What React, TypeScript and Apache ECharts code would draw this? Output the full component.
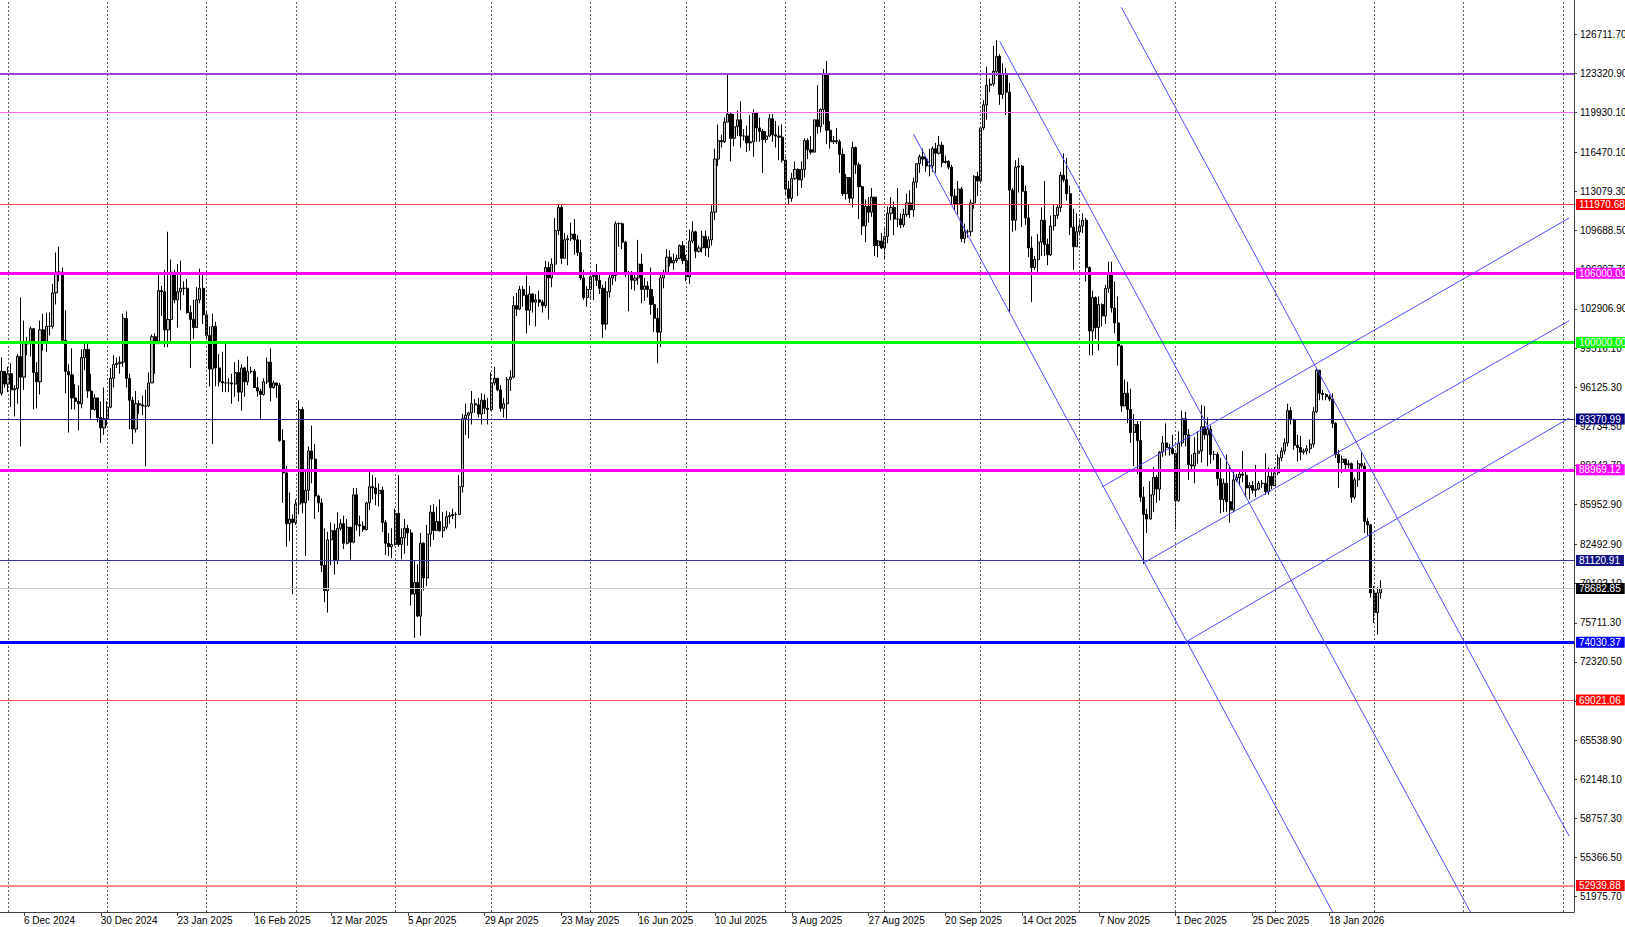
import React, { useEffect, useRef } from "react";
import * as echarts from "echarts";

// ---------- data ----------
const START_UTC = Date.UTC(2024, 10, 29); // 29 Nov 2024
const DAY_COUNT = 492; // categories shown on the time axis (incl. empty future days)
const FIRST_OPEN = 95.6; // thousands USD
const Y_MIN = 50650;
const Y_MAX = 129684;

// daily rows [close, high, low] in thousands of USD (BTC trades 24/7: each open = previous close)
const nov2024 = [[97.5, 98.7, 95.4], [96.4, 97.5, 96.1]];
const dec2024 = [
  [97.3, 97.9, 95.7], [95.9, 98.2, 94.4], [96.0, 96.3, 93.6], [98.8, 99.0, 94.7], [97.0, 103.9, 91.0],
  [99.9, 101.9, 95.9], [99.9, 100.5, 98.9], [101.2, 101.4, 98.8], [97.4, 101.2, 94.2], [96.6, 98.3, 94.3],
  [101.1, 101.9, 95.5], [100.0, 102.5, 99.3], [101.4, 102.6, 99.2], [101.4, 102.6, 100.6], [104.3, 105.1, 101.2],
  [106.1, 107.8, 103.3], [106.1, 108.3, 105.3], [100.2, 106.5, 100.0], [97.5, 102.8, 95.6], [97.2, 98.1, 92.2],
  [95.2, 99.5, 94.2], [94.9, 96.4, 94.2], [94.7, 96.3, 92.4], [98.7, 99.4, 94.3], [99.4, 99.9, 97.6],
  [95.8, 99.9, 95.2], [94.2, 97.3, 93.4], [95.2, 95.5, 94.1], [93.5, 95.2, 93.1], [92.6, 94.9, 91.3], [93.4, 96.1, 92.0],
];
const jan2025 = [
  [94.4, 94.9, 92.8], [96.9, 97.8, 94.3], [98.1, 98.9, 96.1], [98.2, 98.7, 97.8], [98.3, 98.8, 97.3],
  [102.1, 102.5, 97.9], [96.9, 102.7, 96.1], [95.0, 97.3, 92.5], [92.5, 95.3, 91.2], [94.7, 95.8, 92.2],
  [94.6, 95.0, 93.8], [94.5, 95.4, 93.7], [94.5, 95.9, 89.3], [96.5, 97.4, 94.4], [100.5, 100.7, 96.5],
  [99.9, 100.8, 97.3], [104.5, 105.9, 99.9], [104.4, 104.9, 102.3], [101.1, 106.3, 99.6], [102.0, 109.6, 99.6],
  [106.1, 107.2, 100.1], [103.7, 106.3, 103.4], [104.4, 106.8, 101.3], [104.7, 107.1, 102.8], [104.7, 105.3, 104.1],
  [102.6, 105.5, 102.5], [102.0, 103.2, 97.8], [101.3, 103.7, 100.3], [103.7, 104.8, 101.3], [104.7, 106.4, 103.4], [102.4, 106.0, 101.6],
];
const feb2025 = [
  [100.6, 102.7, 100.3], [97.7, 101.4, 96.2], [101.4, 102.5, 91.2], [97.8, 101.8, 96.2], [96.6, 99.0, 96.2],
  [96.5, 99.2, 95.7], [96.5, 100.1, 95.7], [96.5, 96.9, 95.7], [96.4, 97.3, 94.7], [97.4, 98.3, 95.3],
  [95.7, 98.5, 94.9], [97.8, 98.1, 94.1], [96.6, 97.9, 95.3], [97.5, 98.8, 96.3], [97.5, 97.9, 97.3],
  [96.1, 97.7, 96.1], [95.8, 97.0, 95.3], [95.5, 96.0, 93.4], [96.6, 96.9, 95.4], [98.3, 98.7, 96.4],
  [96.1, 99.5, 94.9], [96.5, 96.7, 96.0], [96.3, 96.5, 95.2], [91.5, 96.5, 91.4], [88.7, 92.5, 86.1],
  [84.3, 89.3, 82.3], [84.7, 87.0, 82.8], [84.4, 85.1, 78.2],
];
const mar2025 = [
  [86.0, 86.4, 84.2], [94.2, 95.0, 85.1], [86.1, 94.4, 85.2], [87.2, 88.9, 81.5], [90.6, 91.0, 86.3],
  [89.9, 92.8, 87.8], [86.7, 91.2, 84.7], [86.1, 86.8, 85.3], [80.7, 86.5, 80.1], [78.5, 83.9, 77.5],
  [82.9, 83.6, 76.6], [83.7, 84.4, 80.7], [81.1, 84.3, 79.9], [83.9, 85.3, 80.8], [84.3, 84.7, 83.7],
  [82.6, 85.0, 82.1], [84.0, 84.7, 82.5], [82.7, 84.0, 81.2], [86.8, 87.4, 82.6], [84.2, 87.4, 83.7],
  [84.1, 85.0, 83.2], [83.8, 84.5, 83.6], [86.1, 86.2, 83.7], [87.5, 88.8, 85.5], [87.4, 88.5, 86.4],
  [86.9, 88.3, 85.9], [87.2, 87.8, 85.8], [84.4, 87.5, 83.6], [82.6, 84.6, 81.6], [82.3, 83.5, 81.5], [82.5, 83.9, 81.3],
];
const apr2025 = [
  [85.2, 85.6, 82.4], [82.5, 88.5, 82.3], [83.1, 83.9, 81.2], [83.9, 84.7, 81.7], [83.5, 84.2, 82.4],
  [78.2, 83.8, 77.2], [79.2, 81.1, 74.4], [76.3, 80.8, 76.2], [82.6, 83.5, 74.6], [79.6, 82.7, 78.5],
  [83.4, 84.2, 78.9], [85.3, 85.9, 82.3], [83.7, 86.0, 82.9], [84.5, 85.8, 83.7], [83.7, 86.4, 83.6],
  [84.0, 85.3, 83.1], [84.9, 85.4, 83.8], [85.0, 85.3, 84.3], [85.1, 85.6, 84.7], [85.1, 85.3, 83.9],
  [87.5, 88.5, 85.1], [93.4, 93.8, 87.0], [93.7, 94.7, 92.0], [93.9, 94.0, 91.7], [94.7, 95.8, 92.9],
  [94.6, 95.1, 93.9], [93.8, 95.2, 93.5], [95.0, 95.6, 92.9], [94.3, 95.5, 93.8], [94.2, 95.2, 92.9],
];
const may2025 = [
  [96.5, 97.4, 94.1], [96.9, 97.9, 96.3], [95.9, 96.9, 95.8], [94.3, 96.3, 94.0], [94.7, 95.2, 93.5],
  [96.8, 97.0, 93.4], [97.0, 97.6, 95.8], [103.2, 104.0, 96.9], [102.9, 104.3, 102.3], [104.6, 104.9, 102.8],
  [104.1, 104.9, 103.1], [102.8, 105.8, 100.8], [104.2, 104.9, 101.5], [103.5, 104.3, 102.6], [103.7, 104.2, 101.4],
  [103.5, 104.5, 103.1], [103.2, 103.7, 102.6], [106.5, 107.1, 103.0], [105.6, 107.0, 102.0], [106.8, 107.3, 104.8],
  [109.7, 110.8, 106.1], [111.7, 112.0, 109.3], [107.3, 111.9, 106.8], [108.9, 109.5, 107.3], [109.0, 109.3, 106.7],
  [109.4, 110.4, 108.8], [108.9, 110.7, 107.6], [107.8, 109.3, 107.5], [105.6, 108.9, 105.4], [103.9, 106.3, 103.7], [104.6, 104.9, 103.1],
];
const jun2025 = [
  [105.7, 105.9, 103.8], [105.8, 105.9, 103.7], [105.4, 106.8, 104.9], [104.7, 105.9, 104.2], [101.6, 105.0, 100.4],
  [104.4, 105.3, 101.1], [105.6, 105.9, 103.9], [105.8, 106.0, 105.0], [110.3, 110.5, 105.3], [110.3, 110.4, 108.3],
  [108.7, 110.4, 108.1], [105.9, 108.8, 105.7], [106.0, 106.2, 102.7], [105.4, 106.2, 104.6], [105.6, 106.0, 104.5],
  [106.8, 108.9, 105.0], [104.6, 107.7, 103.4], [104.9, 105.6, 103.6], [104.6, 105.3, 103.9], [103.3, 106.5, 102.4],
  [102.1, 104.0, 100.9], [100.9, 103.0, 98.2], [105.6, 106.1, 99.6], [106.0, 106.3, 104.7], [107.4, 108.1, 105.9],
  [106.9, 108.0, 106.6], [107.1, 107.7, 106.3], [107.3, 107.6, 106.9], [108.4, 108.5, 107.2], [107.1, 108.8, 106.8],
];
const jul2025 = [
  [105.7, 107.6, 105.3], [108.8, 109.8, 105.1], [109.6, 110.5, 108.6], [107.9, 109.7, 107.3], [108.2, 108.4, 107.8],
  [109.2, 109.7, 107.8], [108.2, 109.7, 107.5], [108.9, 109.2, 107.4], [111.3, 111.9, 108.4], [115.9, 116.8, 110.6],
  [117.5, 118.9, 115.3], [117.4, 118.0, 116.9], [119.1, 119.5, 117.3], [119.8, 123.2, 119.1], [117.7, 119.9, 115.7],
  [118.7, 119.8, 117.0], [119.3, 120.1, 117.9], [117.9, 120.9, 116.9], [117.9, 118.5, 117.5], [117.3, 118.8, 116.5],
  [117.4, 119.7, 116.6], [119.9, 120.2, 116.1], [118.6, 120.0, 117.4], [118.3, 119.5, 117.4], [117.6, 118.5, 114.7],
  [117.9, 118.3, 117.3], [119.4, 119.8, 117.8], [118.0, 119.8, 117.4], [117.9, 119.2, 116.9], [117.8, 118.8, 115.8], [115.8, 118.9, 115.6],
];
const aug2025 = [
  [113.3, 116.1, 112.7], [112.5, 114.0, 112.0], [114.2, 114.7, 112.2], [115.0, 115.7, 114.1], [114.1, 115.1, 112.7],
  [115.0, 115.7, 113.4], [117.5, 117.7, 114.3], [116.7, 117.7, 115.9], [116.5, 117.9, 116.3], [119.3, 119.3, 116.6],
  [118.7, 122.3, 118.1], [120.2, 120.3, 118.2], [123.3, 123.7, 118.9], [118.4, 124.4, 117.2], [117.4, 119.2, 116.8],
  [117.5, 117.9, 117.2], [117.4, 118.6, 117.2], [116.3, 117.6, 114.7], [112.9, 116.8, 112.7], [114.3, 114.6, 112.4],
  [112.5, 114.3, 112.1], [116.9, 117.4, 111.7], [115.4, 117.0, 114.6], [113.5, 115.6, 110.7], [110.1, 113.6, 109.3],
  [111.8, 112.4, 108.7], [111.3, 112.6, 110.4], [112.6, 113.4, 110.9], [108.4, 112.6, 107.5], [108.8, 108.9, 107.4], [108.2, 109.5, 108.1],
];
const sep2025 = [
  [109.2, 109.9, 107.3], [111.2, 111.8, 108.6], [111.7, 112.6, 110.6], [110.7, 112.2, 109.3], [110.7, 113.4, 110.0],
  [110.2, 111.2, 109.9], [111.1, 111.6, 110.0], [112.1, 112.9, 110.9], [111.5, 113.2, 110.8], [113.9, 114.3, 110.9],
  [115.5, 115.5, 113.4], [116.1, 116.3, 114.7], [115.9, 116.8, 115.3], [115.3, 116.1, 114.8], [115.3, 116.8, 114.4],
  [116.8, 117.0, 114.8], [116.4, 117.3, 114.7], [117.1, 117.9, 116.3], [115.6, 117.4, 115.2], [115.7, 116.2, 115.5],
  [115.2, 115.8, 115.0], [112.7, 115.4, 112.0], [112.0, 113.3, 111.5], [113.3, 114.0, 111.1], [109.0, 113.5, 108.7],
  [109.6, 110.3, 108.6], [109.6, 109.8, 109.1], [112.1, 112.4, 109.2], [114.4, 114.5, 111.6], [114.0, 114.8, 112.7],
];
const oct2025 = [
  [118.6, 118.6, 113.9], [120.6, 121.0, 118.4], [122.3, 123.9, 119.3], [122.4, 122.9, 121.7], [123.5, 125.7, 122.2],
  [124.8, 126.2, 123.1], [121.5, 125.0, 120.6], [123.3, 124.2, 121.1], [121.7, 123.8, 119.7], [113.2, 122.5, 102.6],
  [110.6, 113.4, 109.6], [115.2, 115.8, 109.7], [115.3, 116.0, 113.0], [113.1, 115.4, 110.0], [110.8, 113.6, 110.2],
  [108.2, 111.9, 107.4], [106.5, 109.2, 103.5], [107.2, 107.5, 106.3], [108.7, 109.4, 106.1], [110.6, 111.7, 107.5],
  [108.5, 114.0, 107.5], [107.6, 109.0, 106.7], [110.1, 111.0, 107.5], [111.0, 112.0, 109.7], [111.7, 111.9, 110.7],
  [114.5, 114.8, 111.3], [114.1, 116.4, 113.9], [112.9, 116.0, 112.3], [110.0, 113.6, 109.3], [108.3, 111.6, 106.3], [109.6, 111.2, 108.5],
];
const nov2025 = [
  [110.1, 110.6, 109.4], [110.6, 111.2, 109.5], [106.5, 110.8, 105.3], [101.0, 106.6, 98.9], [103.9, 104.5, 98.9],
  [101.3, 104.0, 100.3], [103.3, 104.0, 99.3], [102.3, 103.4, 101.4], [104.7, 105.0, 101.6], [105.9, 107.0, 104.3],
  [103.0, 107.0, 102.6], [101.7, 105.3, 100.8], [99.7, 104.0, 98.0], [94.5, 99.8, 94.0], [95.6, 96.8, 94.6],
  [94.2, 96.6, 93.0], [92.2, 96.0, 91.3], [92.9, 93.8, 89.3], [91.5, 93.2, 88.6], [86.6, 93.2, 86.2],
  [85.1, 87.5, 80.8], [84.7, 85.6, 83.5], [86.8, 88.0, 84.7], [88.3, 89.2, 85.3], [87.3, 88.5, 86.1],
  [90.5, 90.6, 86.3], [91.3, 91.9, 90.1], [90.9, 93.0, 90.2], [90.8, 91.2, 90.2], [90.4, 92.0, 90.3],
];
const dec2025 = [
  [86.3, 90.4, 83.8], [91.3, 92.3, 86.2], [93.4, 94.1, 91.0], [92.0, 94.0, 91.0], [89.4, 92.5, 88.1],
  [89.3, 90.3, 88.9], [90.4, 91.8, 87.8], [90.6, 92.3, 89.5], [92.7, 94.6, 89.6], [92.0, 94.5, 91.6],
  [92.5, 93.5, 89.3], [90.3, 92.8, 89.5], [90.3, 90.6, 89.8], [88.2, 90.5, 87.6], [86.4, 90.0, 85.2],
  [87.8, 88.2, 85.3], [86.2, 90.3, 85.3], [85.5, 89.4, 84.4], [88.1, 89.0, 85.3], [88.3, 88.6, 87.9],
  [88.6, 89.0, 87.6], [88.5, 90.6, 87.9], [87.4, 88.9, 86.6], [87.6, 87.9, 86.4], [87.2, 88.0, 86.9],
  [87.3, 89.4, 86.6], [87.8, 88.0, 87.2], [87.8, 88.1, 87.4], [87.1, 90.4, 86.8], [88.4, 89.2, 86.8], [87.6, 89.1, 87.3],
];
const jan2026 = [
  [88.7, 89.2, 87.9], [90.0, 90.3, 88.5], [90.6, 90.9, 89.7], [91.3, 91.7, 90.3], [94.1, 94.7, 91.0],
  [93.3, 94.4, 92.9], [91.1, 93.4, 90.7], [90.9, 92.0, 89.7], [90.5, 91.9, 89.8], [90.6, 90.8, 90.3],
  [90.8, 91.1, 90.3], [91.2, 91.6, 90.4], [94.0, 94.4, 90.9], [97.6, 97.8, 93.9], [95.6, 97.5, 95.0],
  [95.5, 95.9, 95.0], [95.3, 95.6, 95.0], [95.1, 95.5, 94.9], [93.0, 95.6, 92.6], [90.3, 93.1, 90.0],
  [89.6, 90.7, 87.4], [89.9, 90.2, 88.7], [89.4, 89.9, 89.0], [89.5, 89.8, 89.1], [86.6, 89.6, 86.1],
  [88.1, 88.3, 86.4], [89.5, 89.8, 87.5], [89.3, 90.5, 89.1], [84.5, 89.6, 83.5], [84.2, 84.8, 83.3], [78.3, 84.3, 77.9],
];
const feb2026 = [[76.6, 78.9, 75.7], [78.3, 78.8, 74.7], [78.68285, 79.4, 77.8]];

// price-axis tick labels
const priceTicks = [
  126711.7, 123320.9, 119930.1, 116470.1, 113079.3, 109688.5, 106297.7, 102906.9, 99516.1, 96125.3,
  92734.5, 89343.7, 85952.9, 82492.9, 79102.1, 75711.3, 72320.5, 68929.7, 65538.9, 62148.1, 58757.3,
  55366.5, 51975.7,
];

// horizontal levels
const levelPrices = [123320.9, 119930.1, 111970.68, 106000.0, 100000.0, 93370.99, 88969.12, 81120.91, 78682.85, 74030.37, 69021.06, 52939.88];

// trend lines: [start date, start price, end date, end price]
const trendLines: [string, number, string, number][] = [
  ["2025-09-10", 118080, "2026-04-03", 12587],
  ["2025-10-07", 126100, "2026-04-03", 34810],
  ["2025-11-14", 129051, "2026-04-03", 57226],
  ["2025-11-08", 87491, "2026-04-03", 110793],
  ["2025-11-21", 80903, "2026-04-03", 101892],
  ["2025-12-04", 74023, "2026-04-03", 93460],
];

// ---------- styles ----------
const FONT = "'Liberation Sans', Arial, sans-serif";
const levelStyles = [
  { color: "#9b45d0", width: 2, bg: "" },
  { color: "#ff66ff", width: 1, bg: "" },
  { color: "#ff3b3b", width: 1, bg: "#ff0000" },
  { color: "#ff00ff", width: 3, bg: "#ff00ff" },
  { color: "#00ff00", width: 3, bg: "#00ff00" },
  { color: "#25258f", width: 1, bg: "#000080" },
  { color: "#ff00ff", width: 3, bg: "#ff00ff" },
  { color: "#3535a0", width: 1, bg: "#121285" },
  { color: "#c8c8c8", width: 1, bg: "#000000" },
  { color: "#0000ff", width: 3, bg: "#0000ff" },
  { color: "#ff4a4a", width: 1, bg: "#ff0000" },
  { color: "#ff8c8c", width: 2, bg: "#ff0000" },
];

const MONTHS = ["Jan", "Feb", "Mar", "Apr", "May", "Jun", "Jul", "Aug", "Sep", "Oct", "Nov", "Dec"];

function buildDates(): string[] {
  const out: string[] = [];
  for (let i = 0; i < DAY_COUNT; i++) {
    out.push(new Date(START_UTC + i * 86400000).toISOString().slice(0, 10));
  }
  return out;
}

function fmtDate(s: string): string {
  const [y, m, d] = s.split("-");
  return `${Number(d)} ${MONTHS[Number(m) - 1]} ${y}`;
}

function buildCandles() {
  const rows = [
    ...nov2024, ...dec2024, ...jan2025, ...feb2025, ...mar2025, ...apr2025, ...may2025, ...jun2025,
    ...jul2025, ...aug2025, ...sep2025, ...oct2025, ...nov2025, ...dec2025, ...jan2026, ...feb2026,
  ];
  let prev = FIRST_OPEN;
  return rows.map(([c, h, l]) => {
    const o = prev;
    prev = c;
    return [o * 1000, c * 1000, Math.min(l, o, c) * 1000, Math.max(h, o, c) * 1000];
  });
}

export default function App() {
  const ref = useRef<HTMLDivElement>(null);

  useEffect(() => {
    if (!ref.current) return;
    const chart = echarts.init(ref.current, null, { renderer: "svg" });
    const dates = buildDates();
    const candles = buildCandles();
    const lastIdx = candles.length - 1;
    const LABEL_FIRST = 7;
    const LABEL_STEP = 24;
    const showLabel = (idx: number) =>
      idx >= LABEL_FIRST && idx <= lastIdx && (idx - LABEL_FIRST) % LABEL_STEP === 0;
    const monthStarts = dates.filter((d) => d.endsWith("-01"));

    const levelItems = levelPrices.map((p, i) => {
      const st = levelStyles[i];
      return {
        yAxis: p,
        lineStyle: { color: st.color, width: st.width, type: "solid" },
        label: st.bg
          ? {
              show: true,
              position: "end",
              distance: 2,
              formatter: () => p.toFixed(2),
              color: "#ffffff",
              backgroundColor: st.bg,
              padding: [1, 4, 0, 3],
              fontSize: 10,
              lineHeight: 10,
              fontFamily: FONT,
            }
          : { show: false },
      };
    });

    const option: any = {
      animation: false,
      backgroundColor: "#ffffff",
      textStyle: { fontFamily: FONT },
      grid: { left: 0, right: 51, top: 0, bottom: 15, containLabel: false, outerBoundsMode: "none" },
      xAxis: {
        type: "category",
        data: dates,
        boundaryGap: true,
        axisLine: { show: true, lineStyle: { color: "#404040", width: 1 } },
        axisTick: { show: true, alignWithLabel: true, interval: showLabel, length: 4, lineStyle: { color: "#404040" } },
        axisLabel: {
          interval: showLabel,
          formatter: fmtDate,
          align: "left",
          color: "#000000",
          fontSize: 10,
          margin: 3,
          fontFamily: FONT,
        },
        splitLine: { show: false },
      },
      yAxis: {
        type: "value",
        position: "right",
        min: Y_MIN,
        max: Y_MAX,
        axisLine: { show: true, lineStyle: { color: "#404040", width: 1 } },
        axisTick: { show: true, customValues: priceTicks, length: 3, lineStyle: { color: "#404040" } },
        axisLabel: {
          customValues: priceTicks,
          formatter: (v: number) => v.toFixed(2),
          color: "#000000",
          fontSize: 10,
          margin: 6,
          fontFamily: FONT,
        },
        splitLine: { show: false },
      },
      series: [
        {
          type: "line",
          data: [],
          silent: true,
          z: 1,
          markLine: {
            silent: true,
            symbol: ["none", "none"],
            label: { show: false },
            lineStyle: { color: "#5a5a5a", type: [2, 2], width: 1 },
            data: monthStarts.map((d) => ({ xAxis: d })),
          },
        },
        {
          type: "candlestick",
          data: candles,
          barWidth: 2.6,
          z: 3,
          silent: true,
          itemStyle: {
            color: "#bdbdbd",
            color0: "#000000",
            borderColor: "#000000",
            borderColor0: "#000000",
            borderWidth: 1,
          },
        },
        {
          type: "line",
          data: [],
          silent: true,
          z: 4,
          markLine: {
            silent: true,
            symbol: ["none", "none"],
            data: levelItems,
          },
        },
        ...trendLines.map(([d1, p1, d2, p2]) => ({
          type: "line",
          data: [
            [d1, p1],
            [d2, p2],
          ],
          symbol: "none",
          silent: true,
          clip: true,
          z: 5,
          lineStyle: { color: "#4b4bff", width: 1 },
        })),
      ],
    };

    chart.setOption(option);
    return () => chart.dispose();
  }, []);

  return (
    <div
      ref={ref}
      style={{ position: "fixed", left: 0, top: 0, width: 1625, height: 927, background: "#ffffff" }}
    />
  );
}
